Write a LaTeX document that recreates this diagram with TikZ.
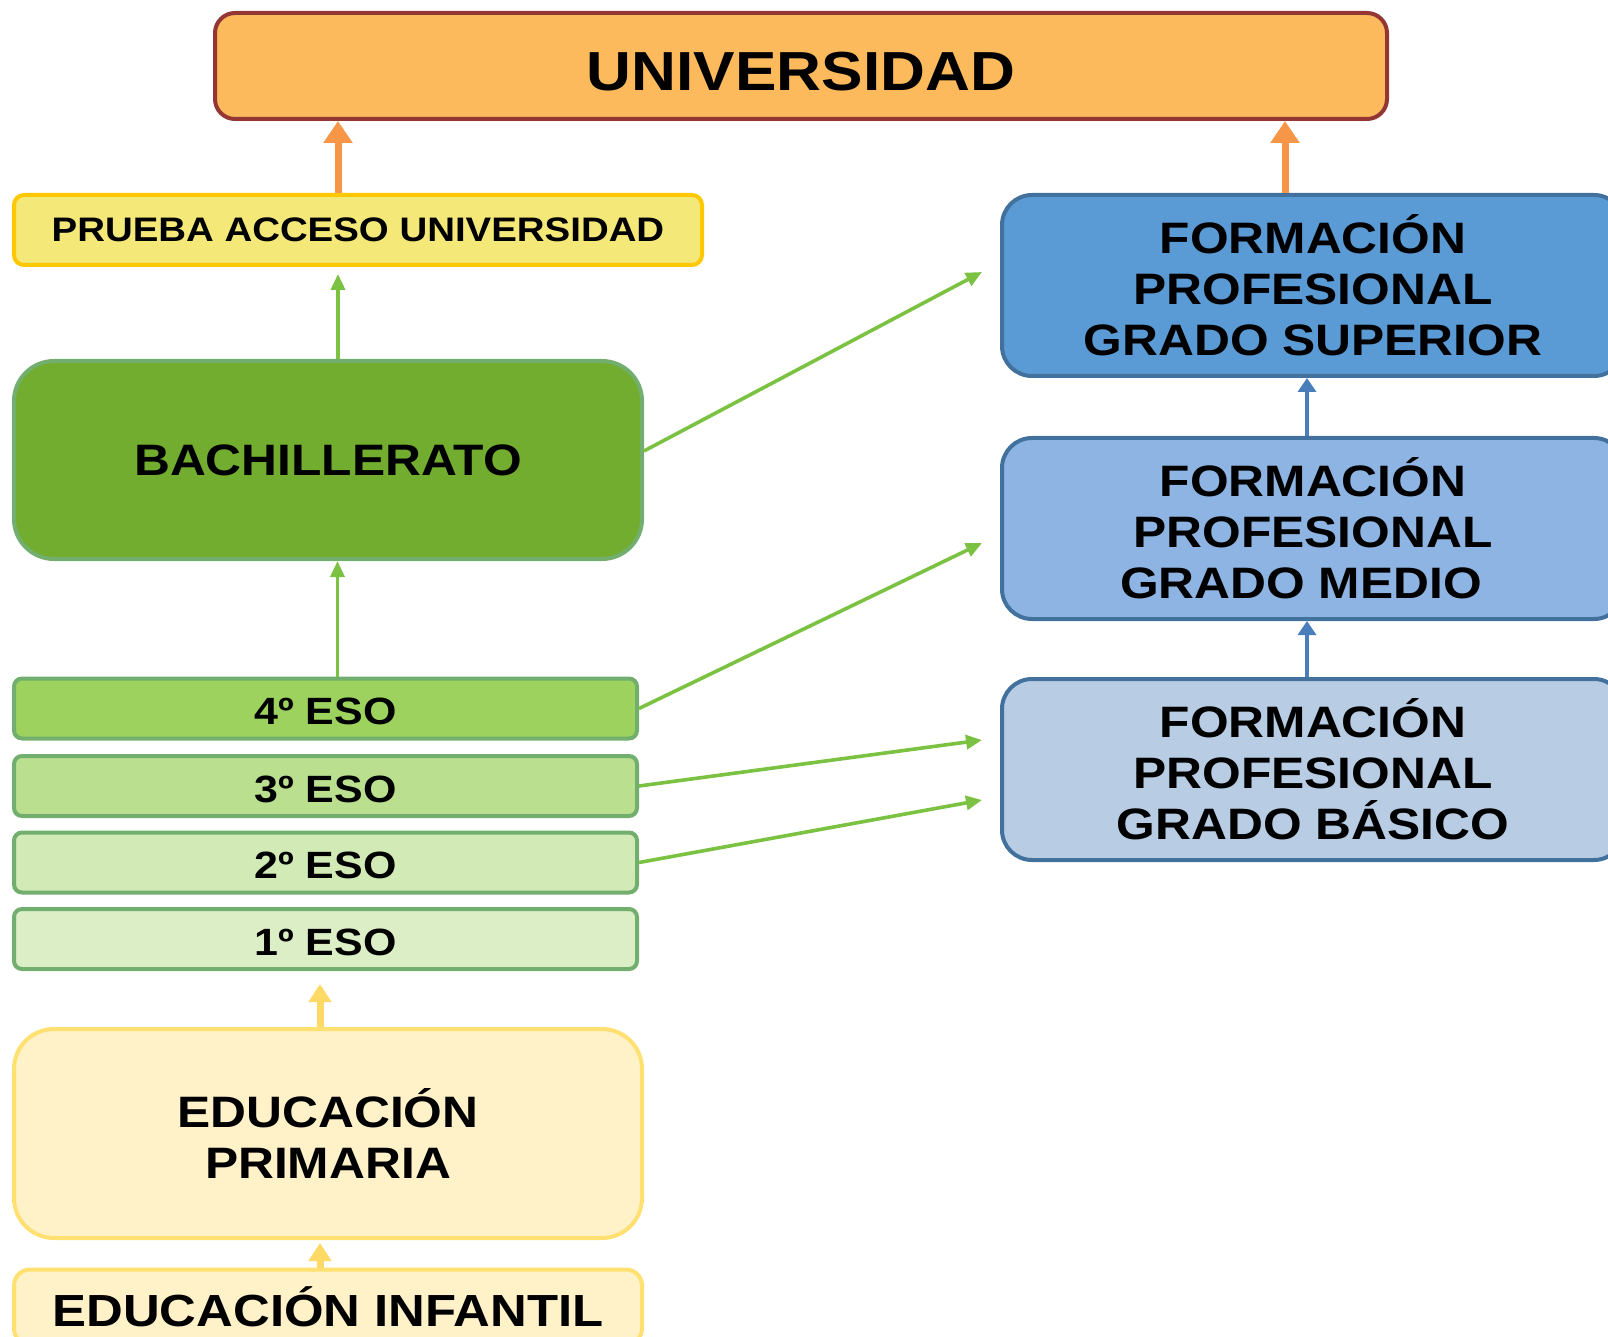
\documentclass[tikz,border=0pt]{standalone}
\usepackage{fontspec}
\setmainfont{Liberation Sans}[FakeStretch=1.13]
\usetikzlibrary{positioning,arrows.meta}

\definecolor{uniFill}{HTML}{FCBA5C}
\definecolor{uniLine}{HTML}{943634}
\definecolor{pauFill}{HTML}{F3E878}
\definecolor{pauLine}{HTML}{FFC800}
\definecolor{bachFill}{HTML}{72AD2F}
\definecolor{esoLine}{HTML}{72AE6E}
\definecolor{esoFourFill}{HTML}{9CD25D}
\definecolor{esoThreeFill}{HTML}{B9DF8F}
\definecolor{esoTwoFill}{HTML}{D2EAB6}
\definecolor{esoOneFill}{HTML}{DBEEC5}
\definecolor{priFill}{HTML}{FFF2C9}
\definecolor{priLine}{HTML}{FFE071}
\definecolor{fpLine}{HTML}{41719C}
\definecolor{fpSupFill}{HTML}{5B9BD5}
\definecolor{fpMedFill}{HTML}{8DB4E2}
\definecolor{fpBasFill}{HTML}{B8CCE4}
\definecolor{arrowGreen}{HTML}{7CC242}
\definecolor{arrowOrange}{HTML}{F79646}
\definecolor{arrowYellow}{HTML}{FFD966}
\definecolor{arrowBlue}{HTML}{4A7EBB}

\begin{document}
\begin{tikzpicture}[x=0.5pt, y=-0.5pt,
  box/.style={rectangle, draw, line width=2pt, align=center, inner sep=0pt, text=black},
  eso/.style={box, draw=esoLine, rounded corners=4pt, minimum width=311.5pt, minimum height=30pt,
              text height=16pt, text depth=0pt, font=\bfseries\fontsize{19}{22}\selectfont},
  fp/.style={box, draw=fpLine, rounded corners=15pt, minimum width=311pt, minimum height=90.5pt, font=\bfseries\fontsize{22}{25.5}\selectfont},
  edu/.style={box, fill=priFill, draw=priLine, minimum width=314pt},
  greenarrow/.style={draw=arrowGreen, line width=1.8pt, -{Triangle[length=8pt,width=7pt]}},
  orangearrow/.style={draw=arrowOrange, line width=3.5pt, -{Triangle[length=11pt,width=14pt]}},
  yellowarrow/.style={draw=arrowYellow, line width=3.5pt, -{Triangle[length=9pt,width=11pt]}},
  bluearrow/.style={draw=arrowBlue, line width=2pt, -{Triangle[length=7pt,width=9pt]}}]
  \useasboundingbox (0,0) rectangle (1608,1337);

  % Nodes
  \node[box, fill=uniFill, draw=uniLine, rounded corners=10pt, minimum width=586pt, minimum height=53pt,
        text height=24.5pt, text depth=0pt, font=\bfseries\fontsize{27.5}{30}\selectfont] (univ) at (801,66) {UNIVERSIDAD};
  \node[box, fill=pauFill, draw=pauLine, rounded corners=5pt, minimum width=344pt, minimum height=35pt,
        font=\bfseries\fontsize{17}{20}\selectfont] (pau) at (358,230) {PRUEBA ACCESO UNIVERSIDAD};
  \node[box, fill=bachFill, draw=esoLine, rounded corners=20pt, minimum width=314pt, minimum height=99pt,
        font=\bfseries\fontsize{22}{25}\selectfont] (bach) at (328,460) {BACHILLERATO};
  \node[eso, fill=esoFourFill] (eso4) at (325.5,708.5) {4º ESO};
  \node[eso, fill=esoThreeFill] (eso3) at (325.5,786) {3º ESO};
  \node[eso, fill=esoTwoFill] (eso2) at (325.5,862.5) {2º ESO};
  \node[eso, fill=esoOneFill] (eso1) at (325.5,939) {1º ESO};
  \node[edu, rounded corners=20pt, minimum height=104.5pt,
        font=\bfseries\fontsize{22}{25.5}\selectfont] (primaria) at (328,1133.5) {EDUCACIÓN\\PRIMARIA};
  \node[edu, rounded corners=8pt, minimum height=37.5pt,
        font=\bfseries\fontsize{22.5}{25}\selectfont] (infantil) at (328,1307) {EDUCACIÓN INFANTIL};
  \node[fp, fill=fpSupFill] (fpsup) at (1313,285.5) {FORMACIÓN\\PROFESIONAL\\GRADO SUPERIOR};
  \node[fp, fill=fpMedFill] (fpmed) at (1313,528.5) {FORMACIÓN\\PROFESIONAL\\GRADO MEDIO\hspace*{12pt}};
  \node[fp, fill=fpBasFill] (fpbas) at (1313,769.5) {FORMACIÓN\\PROFESIONAL\\GRADO BÁSICO};

  % free ends of the green arrows
  \coordinate (toSup) at (982,272);
  \coordinate (toMed) at (982,543);
  \coordinate (toBasA) at (982,740);
  \coordinate (toBasB) at (982,800);

  % Arrows
  \draw[orangearrow] ([xshift=-10pt]pau.north) -- ([xshift=-10pt]pau.north |- univ.south);
  \draw[orangearrow] ([xshift=-14pt]fpsup.north) -- ([xshift=-14pt]fpsup.north |- univ.south);
  \draw[greenarrow, shorten >=3.5pt] ([xshift=5pt]bach.north) -- ([xshift=5pt]bach.north |- pau.south);
  \draw[greenarrow] ([xshift=6pt]eso4.north) -- ([xshift=6pt]eso4.north |- bach.south);
  \draw[yellowarrow, shorten >=6.5pt] ([xshift=-4pt]primaria.north) -- ([xshift=-4pt]primaria.north |- eso1.south);
  \draw[yellowarrow, shorten >=1.5pt] ([xshift=-4pt]infantil.north) -- ([xshift=-4pt]infantil.north |- primaria.south);
  \draw[bluearrow] ([xshift=-3pt]fpmed.north) -- ([xshift=-3pt]fpmed.north |- fpsup.south);
  \draw[bluearrow] ([xshift=-3pt]fpbas.north) -- ([xshift=-3pt]fpbas.north |- fpmed.south);
  \draw[greenarrow] ([yshift=4.5pt]bach.east) -- (toSup);
  \draw[greenarrow] (eso4.east) -- (toMed);
  \draw[greenarrow] (eso3.east) -- (toBasA);
  \draw[greenarrow] (eso2.east) -- (toBasB);
\end{tikzpicture}
\end{document}
